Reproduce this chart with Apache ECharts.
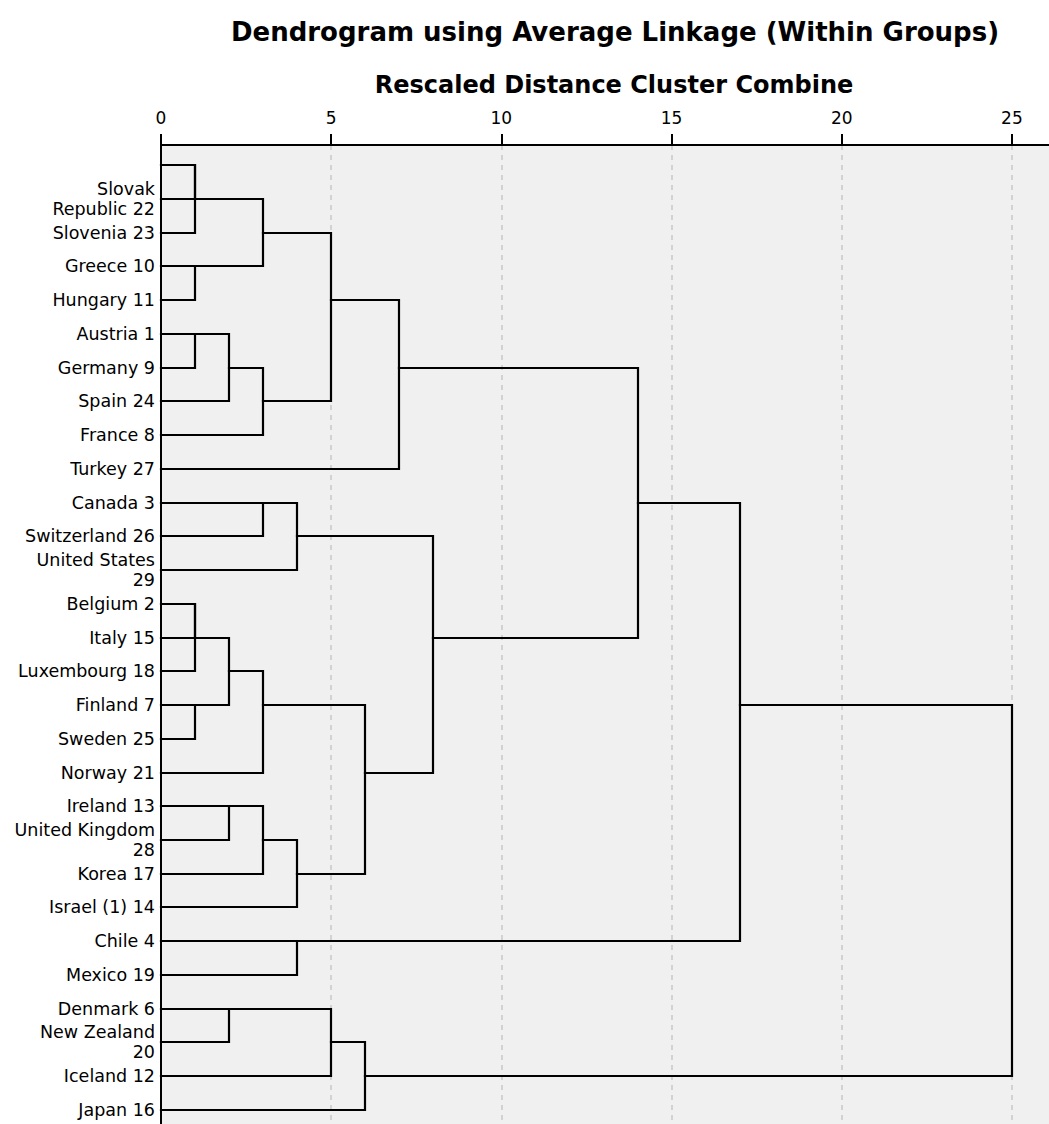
<!DOCTYPE html>
<html>
<head>
<meta charset="utf-8">
<script src="https://cdn.jsdelivr.net/npm/echarts@6/dist/echarts.min.js"></script>
<style>
html,body{margin:0;padding:0;background:#ffffff;}
#chart{width:1049px;height:1124px;}
</style>
</head>
<body>
<div id="chart"></div>
<script>
// Leaf labels, top to bottom (first row's label is not shown in the reference)
const leafLabels = ['', 'Slovak\nRepublic 22', 'Slovenia 23', 'Greece 10', 'Hungary 11', 'Austria 1',
  'Germany 9', 'Spain 24', 'France 8', 'Turkey 27', 'Canada 3', 'Switzerland 26', 'United States\n29',
  'Belgium 2', 'Italy 15', 'Luxembourg 18', 'Finland 7', 'Sweden 25', 'Norway 21', 'Ireland 13',
  'United Kingdom\n28', 'Korea 17', 'Israel (1) 14', 'Chile 4', 'Mexico 19', 'Denmark 6',
  'New Zealand\n20', 'Iceland 12', 'Japan 16'];

// Agglomeration steps: ids 0..28 are leaves (rows), id 29+k is the cluster formed at step k
const mergeA    = [0, 29, 3, 30, 5, 33, 34, 32, 36, 10, 38, 13, 40, 16, 41, 43, 19, 45, 46, 44, 39, 37, 23, 50, 25, 53, 54, 52];
const mergeB    = [1, 2, 4, 31, 6, 7, 8, 35, 9, 11, 12, 14, 15, 17, 42, 18, 20, 21, 22, 47, 48, 49, 24, 51, 26, 27, 28, 55];
const mergeDist = [1, 1, 1, 3, 1, 2, 3, 5, 7, 3, 4, 1, 1, 1, 2, 3, 2, 3, 4, 6, 8, 14, 4, 17, 2, 5, 6, 25];

const axisTickValues = [0, 5, 10, 15, 20, 25];

// Build bracket data: [heightA, rowA, mergeDistance, rowB, heightB]
const rowOf = [], heightOf = [];
leafLabels.forEach((l, i) => { rowOf[i] = i; heightOf[i] = 0; });
const brackets = [];
mergeA.forEach((a, k) => {
  const b = mergeB[k], d = mergeDist[k];
  brackets.push([heightOf[a], rowOf[a], d, rowOf[b], heightOf[b]]);
  const id = leafLabels.length + k;
  rowOf[id] = Math.floor((rowOf[a] + rowOf[b]) / 2);
  heightOf[id] = d;
});
const rowValues = leafLabels.map((l, i) => i);

const chart = echarts.init(document.getElementById('chart'), null, {renderer: 'svg'});
const FONT = 'DejaVu Sans';
chart.setOption({
  backgroundColor: '#ffffff',
  animation: false,
  title: [{
    text: 'Dendrogram using Average Linkage (Within Groups)',
    left: 610, top: 14, textAlign: 'center',
    textStyle: {fontFamily: FONT, fontWeight: 'bold', fontSize: 26, color: '#000'}
  }, {
    text: 'Rescaled Distance Cluster Combine',
    left: 609, top: 68, textAlign: 'center',
    textStyle: {fontFamily: FONT, fontWeight: 'bold', fontSize: 24, color: '#000'}
  }],
  grid: {left: 161, top: 145, right: 0, bottom: 0, show: true, backgroundColor: '#f0f0f0', borderWidth: 0},
  xAxis: {
    type: 'value', position: 'top', min: 0, max: 26.09, interval: 5,
    axisLine: {show: true, onZero: false, lineStyle: {color: '#000', width: 2}},
    axisTick: {show: true, length: 11, customValues: axisTickValues, lineStyle: {color: '#000', width: 2}},
    axisLabel: {customValues: axisTickValues, color: '#000', fontFamily: FONT, fontSize: 17, margin: 19},
    splitLine: {show: true, lineStyle: {color: '#c8c8c8', width: 1.5, type: [5, 5]}}
  },
  yAxis: {
    type: 'value', inverse: true, min: -0.593, max: 28.415,
    axisLine: {show: true, onZero: false, lineStyle: {color: '#000', width: 2}},
    axisTick: {show: false},
    splitLine: {show: false},
    axisLabel: {
      customValues: rowValues,
      formatter: v => leafLabels[Math.round(v)],
      color: '#000', fontFamily: FONT, fontSize: 17.5, lineHeight: 20, margin: 6
    }
  },
  series: [{
    type: 'custom',
    data: brackets,
    silent: true,
    renderItem: function (params, api) {
      const pts = [
        api.coord([api.value(0), api.value(1)]),
        api.coord([api.value(2), api.value(1)]),
        api.coord([api.value(2), api.value(3)]),
        api.coord([api.value(4), api.value(3)])
      ].map(p => [Math.round(p[0]), Math.round(p[1])]);
      return {
        type: 'polyline',
        shape: {points: pts},
        style: {stroke: '#000', lineWidth: 2.2, fill: null, lineJoin: 'miter', lineCap: 'square'}
      };
    }
  }]
});
</script>
</body>
</html>
